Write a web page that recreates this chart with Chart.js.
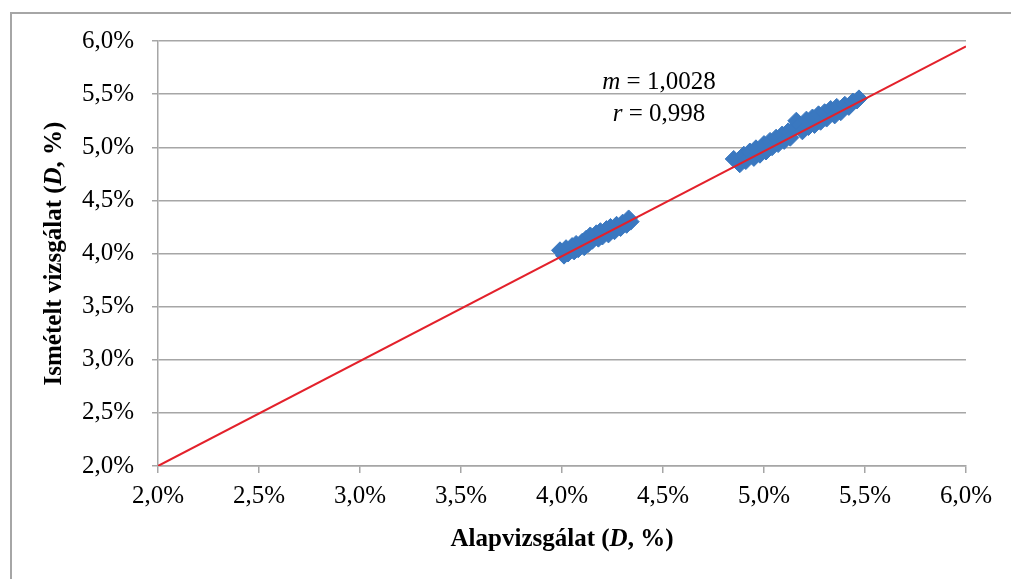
<!DOCTYPE html>
<html>
<head>
<meta charset="utf-8">
<script src="https://cdn.jsdelivr.net/npm/chart.js@4"></script>
<style>
  html, body { margin: 0; padding: 0; background: #fff; overflow: hidden; }
  #frame { position: absolute; left: 10px; top: 12px; width: 1200px; height: 800px;
           border-left: 2px solid #a6a6a6; border-top: 2px solid #a6a6a6; }
  #myChart { position: absolute; left: 0; top: 0; }
</style>
</head>
<body>
<div id="frame"></div>
<canvas id="myChart" width="1011" height="579"></canvas>
<script>
// Alapvizsgálat (x) vs. ismételt vizsgálat (y), D %
const baseValues = [
    3.99, 4.01, 4.02, 4.03, 4.05, 4.06, 4.07, 4.08, 4.10, 4.11, 4.12, 4.13, 4.14, 4.15,
    4.17, 4.18, 4.19, 4.20, 4.22, 4.23, 4.24, 4.26, 4.27, 4.29, 4.30, 4.32, 4.33, 4.34,
    4.85, 4.88, 4.90, 4.91, 4.93, 4.95, 4.96, 4.98, 5.00, 5.01, 5.03, 5.04, 5.06, 5.07,
    5.09, 5.10, 5.12, 5.13, 5.15, 5.16, 5.18, 5.19, 5.21, 5.22, 5.24, 5.25, 5.27, 5.28,
    5.30, 5.31, 5.33, 5.35, 5.36, 5.38, 5.40, 5.42, 5.44, 5.46, 5.47
];
const repeatValues = [
    4.03, 3.98, 4.05, 4.00, 4.07, 4.02, 4.09, 4.04, 4.11, 4.06, 4.14, 4.09, 4.17, 4.12,
    4.19, 4.14, 4.21, 4.16, 4.23, 4.18, 4.25, 4.21, 4.27, 4.24, 4.29, 4.27, 4.33, 4.30,
    4.89, 4.84, 4.93, 4.87, 4.96, 4.90, 4.99, 4.93, 5.03, 4.96, 5.06, 5.00, 5.09, 5.03,
    5.12, 5.06, 5.15, 5.09, 5.18, 5.25, 5.21, 5.15, 5.26, 5.19, 5.28, 5.21, 5.31, 5.24,
    5.33, 5.27, 5.36, 5.30, 5.38, 5.33, 5.40, 5.38, 5.43, 5.44, 5.46
];
// regression line end points
const fitX = [2.0, 6.0];
const fitY = [2.0, 5.95];
const tickValues = [2.0, 2.5, 3.0, 3.5, 4.0, 4.5, 5.0, 5.5, 6.0];
const statLines = [['m', ' = 1,0028'], ['r', ' = 0,998']];

const serif = "'Liberation Serif', 'Times New Roman', serif";
const gridColor = '#a6a6a6';

function pct(v) {
    return v.toFixed(1).replace('.', ',') + '%';
}

// draws text made of [text, font] pieces, centred on x
function drawParts(ctx, parts, x, y) {
    let total = 0;
    parts.forEach(p => { ctx.font = p[1]; total += ctx.measureText(p[0]).width; });
    let cx = x - total / 2;
    parts.forEach(p => {
        ctx.font = p[1];
        ctx.fillText(p[0], cx, y);
        cx += ctx.measureText(p[0]).width;
    });
}

const textPlugin = {
    id: 'texts',
    afterDraw(chart) {
        const ctx = chart.ctx;
        const area = chart.chartArea;
        const xs = chart.scales.x, ys = chart.scales.y;
        ctx.save();
        ctx.fillStyle = '#000';
        ctx.textBaseline = 'alphabetic';
        const b = 'bold 25px ' + serif, bi = 'bold italic 25px ' + serif;
        const title = t => [[t + '(', b], ['D', bi], [', %)', b]];
        drawParts(ctx, title('Alapvizsgálat '), (area.left + area.right) / 2, 546);
        ctx.save();
        ctx.translate(61, (area.top + area.bottom) / 2);
        ctx.rotate(-Math.PI / 2);
        drawParts(ctx, title('Ismételt vizsgálat '), 0, 0);
        ctx.restore();
        const n = '25px ' + serif, it = 'italic 25px ' + serif;
        const sx = xs.getPixelForValue(4.48);
        drawParts(ctx, [[statLines[0][0], it], [statLines[0][1], n]], sx, ys.getPixelForValue(5.55));
        drawParts(ctx, [[statLines[1][0], it], [statLines[1][1], n]], sx, ys.getPixelForValue(5.25));
        ctx.restore();
    }
};

const chart = new Chart(document.getElementById('myChart').getContext('2d'), {
    type: 'scatter',
    data: {
        datasets: [{
            type: 'line',
            label: 'fit',
            data: fitX.map((x, i) => ({ x: x, y: fitY[i] })),
            borderColor: '#e3212b',
            borderWidth: 2,
            pointRadius: 0,
            fill: false,
            order: 0
        }, {
            label: 'D',
            data: baseValues.map((x, i) => ({ x: x, y: repeatValues[i] })),
            pointStyle: 'rectRot',
            pointRadius: 8.5,
            pointBackgroundColor: '#3a78c0',
            pointBorderColor: '#3a78c0',
            pointBorderWidth: 1,
            order: 1
        }]
    },
    options: {
        responsive: false,
        animation: false,
        devicePixelRatio: 1,
        layout: { padding: { left: 0, right: 45, top: 41, bottom: 0 } },
        plugins: {
            legend: { display: false },
            tooltip: { enabled: false }
        },
        scales: {
            x: {
                type: 'linear',
                min: 2,
                max: 6,
                afterBuildTicks: s => { s.ticks = tickValues.map(v => ({ value: v })); },
                afterFit: s => { s.height = 113; },
                ticks: {
                    callback: pct,
                    maxRotation: 0,
                    autoSkip: false,
                    padding: 8,
                    color: '#000',
                    font: { family: serif, size: 25 }
                },
                grid: { drawOnChartArea: false, drawTicks: true, tickLength: 7, color: gridColor, lineWidth: 1.5 },
                border: { display: true, color: gridColor, width: 1.5 }
            },
            y: {
                type: 'linear',
                min: 2,
                max: 6,
                afterBuildTicks: s => { s.ticks = tickValues.map(v => ({ value: v })); },
                afterFit: s => { s.width = 158; },
                ticks: {
                    callback: pct,
                    autoSkip: false,
                    padding: 18,
                    color: '#000',
                    font: { family: serif, size: 25 }
                },
                grid: { drawTicks: true, tickLength: 6, color: gridColor, lineWidth: 1.5 },
                border: { display: true, color: gridColor, width: 1.5 }
            }
        }
    },
    plugins: [textPlugin]
});
</script>
</body>
</html>
